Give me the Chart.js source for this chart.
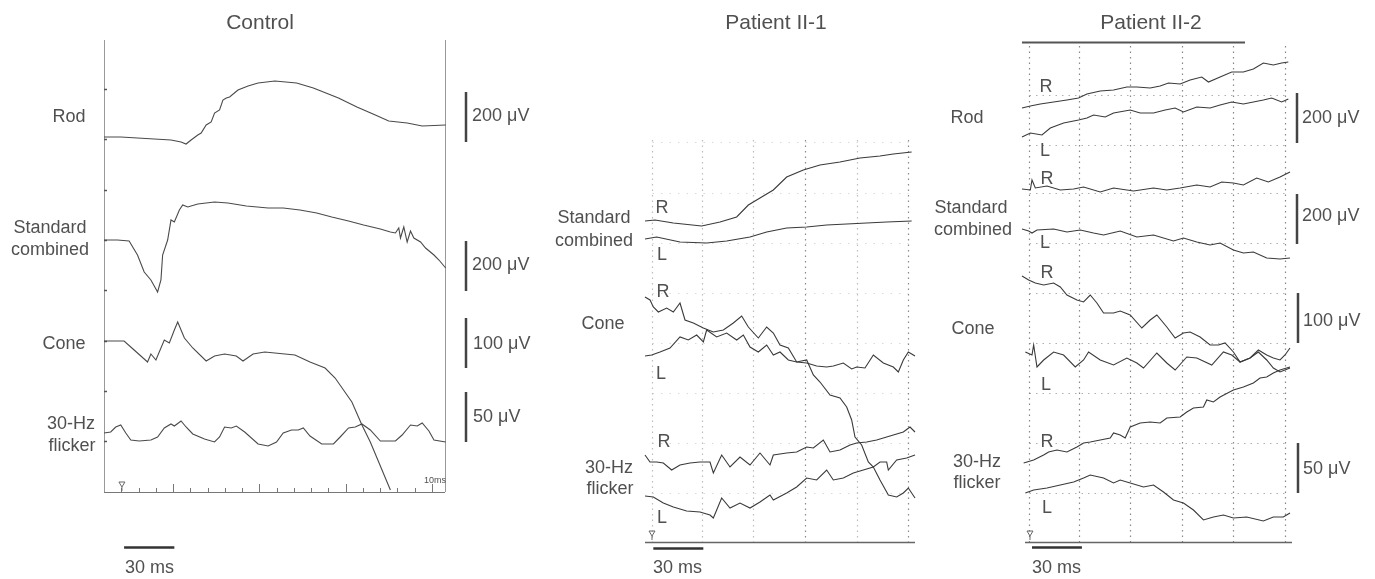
<!DOCTYPE html>
<html>
<head>
<meta charset="utf-8">
<script src="https://cdn.jsdelivr.net/npm/chart.js@4.4.0/dist/chart.umd.min.js"></script>
<style>
  body { margin: 0; background: #fff; }
  #wrap { position: relative; width: 1375px; height: 579px; overflow: hidden; background: #fff;
          font-family: "Liberation Sans", Arial, sans-serif; color: #505050; }
  #wrap canvas { position: absolute; left: 0; top: 0; }
  .t { position: absolute; white-space: nowrap; font-size: 18px; line-height: 20px; height: 20px; }
</style>
</head>
<body>
<div id="wrap">
  <canvas id="c0" width="1375" height="579"></canvas>
  <canvas id="c1" width="1375" height="579"></canvas>
  <canvas id="c2" width="1375" height="579"></canvas>
</div>
<script>
// ---- data: time (ms) and amplitude (uV, relative to each trace's own start) ----
// Control
const ctrlRodT = [0,10,20,30,40,46,49,52,56,58,61,64,66,69,71,73,75,80,86,92,102,115,125,140,151,162,170,181,190,204];
const ctrlRodV = [0,0,-4,-8,-12,-20,-28,-12,8,16,48,60,96,108,148,156,160,188,204,216,224,216,196,156,120,88,64,56,44,48];
const ctrlStdT = [0,8,15,20,24,28,30,32,34,35,38,40,42,45,47,50,56,66,74,85,98,107,117,127,136,146,155,165,171,174,176,177,179,181,183,185,189,192,197,200,204];
const ctrlStdV = [0,0,-4,-60,-128,-160,-184,-208,-160,-60,0,80,72,120,140,132,144,152,148,136,128,128,120,108,92,76,60,44,32,28,48,8,52,-8,36,8,-8,-32,-60,-80,-112];
const ctrlConeT = [0,12,18,26,28,31,36,39,42,44,48,53,61,66,72,79,83,89,96,108,114,123,132,138,143,148,154,159,164,168,171];
const ctrlConeV = [0,0,-18,-42,-26,-38,2,-4,22,38,6,-14,-40,-30,-26,-30,-40,-26,-22,-26,-28,-42,-54,-74,-98,-122,-168,-202,-242,-274,-298];
const ctrlFlkT = [0,4,7,10,13,16,21,28,32,36,40,42,46,49,53,60,66,69,72,76,79,84,92,98,103,107,112,116,119,123,130,137,141,146,150,154,159,165,174,178,183,187,190,194,197,204];
const ctrlFlkV = [-1,0,5,7,-1,-8,-9,-8,-5,4,8,6,11,5,-2,-7,-10,-5,5,4,6,0,-12,-14,-10,-1,2,2,4,-4,-12,-12,-5,4,5,8,2,-9,-9,-3,7,6,9,1,-8,-10];

// Patient II-1
const p1StdRT = [0,6,17,34,45,55,62,69,77,85,95,105,117,129,141,149,160];
const p1StdRV = [0,4,-8,-20,-4,16,64,92,124,176,204,224,236,252,260,268,276];
const p1StdLT = [0,7,21,37,49,63,73,85,97,109,121,133,145,160];
const p1StdLV = [0,8,-12,-16,-8,8,28,44,48,56,60,64,68,72];
const p1ConeRT = [0,3,5,8,13,17,21,24,29,35,41,47,53,58,62,68,73,77,81,86,91,97,101,105,111,117,121,124,126,130,134,137,141,146,151,155,158,162];
const p1ConeRV = [0,-6,-20,-30,-22,-30,-12,-46,-52,-62,-70,-66,-52,-38,-60,-82,-60,-72,-96,-102,-130,-126,-156,-170,-196,-202,-220,-246,-280,-296,-330,-340,-366,-396,-400,-392,-382,-402];
const p1ConeLT = [0,4,9,15,21,26,31,35,37,43,49,55,59,63,68,73,77,81,86,91,97,103,109,113,119,124,127,132,137,143,149,152,155,158,162];
const p1ConeLV = [0,2,8,16,38,32,42,28,52,38,46,32,42,18,8,22,2,8,-8,-12,-14,-20,-22,-20,-14,-26,-22,-24,2,-14,-22,-32,-8,8,0];
const p1FlkRT = [0,3,7,11,16,21,27,33,39,41,46,51,57,63,69,75,77,85,91,97,101,107,111,117,123,127,133,139,145,149,155,159,162];
const p1FlkRV = [0,-7,-7,-8,-15,-10,-8,-7,-7,-18,0,-12,-2,-10,2,-10,0,2,3,8,7,15,3,5,10,12,13,15,18,20,23,28,23];
const p1FlkLT = [0,5,11,17,25,33,39,41,46,51,57,63,69,75,77,85,91,97,103,109,113,119,125,131,137,141,145,146,151,157,162];
const p1FlkLV = [0,-1,-7,-11,-15,-16,-19,-22,-2,-12,-7,-12,-6,1,-4,3,9,18,16,26,16,18,23,26,29,34,34,26,36,38,41];

// Patient II-2
const p2RodRT = [0,5,11,19,27,34,39,47,55,63,69,77,83,88,95,101,108,112,119,126,133,139,145,151,156,160];
const p2RodRV = [0,8,16,24,32,40,56,68,72,84,84,80,88,100,96,112,124,104,124,144,144,156,180,172,180,184];
const p2RodLT = [0,5,12,17,25,34,39,43,50,55,65,71,79,86,92,97,105,113,119,126,133,139,145,150,156,160];
const p2RodLV = [0,16,8,36,56,68,76,88,80,96,108,96,96,108,116,100,120,116,128,140,132,140,148,156,140,152];
const p2StdRT = [0,5,6,8,15,23,31,37,47,55,67,79,87,95,105,113,120,127,133,141,148,155,161];
const p2StdRV = [0,-4,36,4,12,-4,0,8,-12,4,-8,4,-4,4,16,8,28,24,16,44,28,48,68];
const p2StdLT = [0,4,6,9,19,27,35,43,49,59,69,79,91,97,105,113,119,127,133,139,147,155,161];
const p2StdLV = [0,-8,-16,-4,0,-12,-4,-16,-24,-8,-32,-24,-48,-36,-52,-64,-56,-84,-96,-92,-116,-120,-116];
const p2ConeRT = [0,4,8,13,19,23,27,33,37,41,45,49,55,59,65,72,77,81,87,92,97,101,107,113,118,122,127,131,137,142,147,151,155,158,161];
const p2ConeRV = [8,0,-6,-10,-6,-14,-30,-40,-44,-30,-46,-66,-66,-62,-70,-96,-80,-70,-94,-116,-106,-104,-114,-130,-130,-126,-144,-164,-156,-140,-150,-156,-160,-150,-136];
const p2ConeLT = [2,6,7,9,13,19,25,32,37,40,47,55,63,69,73,81,87,92,99,105,114,121,126,131,137,142,147,151,155,161];
const p2ConeLV = [0,-6,14,-30,-16,0,-6,-30,-16,0,-16,-26,-12,-22,-32,-2,-22,-36,-10,-12,-26,0,-6,-20,-12,0,-16,-32,-40,-32];
const p2FlkRT = [1,7,13,16,21,27,33,37,41,47,53,55,59,62,65,71,77,83,87,95,99,103,109,111,115,119,127,133,139,143,147,151,155,161];
const p2FlkRV = [0,3,8,11,13,11,16,20,21,23,25,30,28,25,36,40,41,40,45,46,51,55,56,63,61,66,73,76,80,85,86,90,93,96];
const p2FlkLT = [2,7,15,23,31,37,41,49,55,59,65,73,79,85,91,97,103,109,115,121,127,135,145,151,157,161];
const p2FlkLV = [0,3,5,8,11,15,18,15,10,13,10,6,8,1,-7,-10,-17,-27,-24,-22,-25,-24,-28,-24,-24,-20];

// vertical grid times for the patient panels (ms)
const gridTimes = [4, 34, 65, 96, 127, 158];

// ---- layout ----
const W = 1375, H = 579;

function pts(t, v) { return t.map((x, i) => ({ x: x, y: v[i] })); }

// each trace gets its own hidden y axis: base = pixel row of the trace start, s = uV per pixel
function buildChart(canvasId, area, xMax, rows, color, decor) {
  const scales = { x: { type: 'linear', axis: 'x', display: false, min: 0, max: xMax } };
  const datasets = [];
  rows.forEach(r => {
    scales[r.id] = { type: 'linear', axis: 'y', position: 'left', display: false,
      min: -(area.bottom - r.base) * r.s, max: (r.base - area.top) * r.s };
    datasets.push({ data: pts(r.t, r.v), xAxisID: 'x', yAxisID: r.id, borderColor: color, borderWidth: 1.1,
      pointRadius: 0, tension: 0, clip: false });
  });
  return new Chart(document.getElementById(canvasId), {
    type: 'line',
    data: { datasets: datasets },
    options: {
      responsive: false, animation: false, devicePixelRatio: 1,
      events: [],
      layout: { padding: { left: area.left, top: area.top, right: W - area.right, bottom: H - area.bottom } },
      plugins: { legend: { display: false }, tooltip: { enabled: false } },
      scales: scales
    },
    plugins: [{ id: 'decor', beforeDatasetsDraw(chart) { decor(chart); } }]
  });
}

function line(ctx, x1, y1, x2, y2, color, width, dash) {
  ctx.save();
  ctx.strokeStyle = color; ctx.lineWidth = width; ctx.setLineDash(dash || []);
  ctx.beginPath(); ctx.moveTo(x1, y1); ctx.lineTo(x2, y2); ctx.stroke();
  ctx.restore();
}

function stimMark(ctx, x, y) {
  ctx.save();
  ctx.strokeStyle = '#666'; ctx.lineWidth = 1;
  ctx.beginPath();
  ctx.moveTo(x - 3, y); ctx.lineTo(x + 3, y); ctx.lineTo(x, y + 5); ctx.closePath();
  ctx.moveTo(x, y + 5); ctx.lineTo(x, y + 9);
  ctx.stroke();
  ctx.restore();
}

function uvBar(chart, axisId, from, len, px) {
  const y = chart.scales[axisId];
  line(chart.ctx, px, y.getPixelForValue(from), px, y.getPixelForValue(from + len), '#444', 2.5);
}

function msBar(chart, t0, py) {
  const x = chart.scales.x;
  line(chart.ctx, x.getPixelForValue(t0), py, x.getPixelForValue(t0 + 30), py, '#333', 2.5);
}

// ---- Control ----
const ctrlArea = { left: 104, top: 40, right: 445, bottom: 492 };
buildChart('c0', ctrlArea, 203.6, [
  { id: 'yRod',  base: 137, s: 4, t: ctrlRodT,  v: ctrlRodV },
  { id: 'yStd',  base: 240, s: 4, t: ctrlStdT,  v: ctrlStdV },
  { id: 'yCone', base: 341, s: 2, t: ctrlConeT, v: ctrlConeV },
  { id: 'yFlk',  base: 432, s: 1, t: ctrlFlkT,  v: ctrlFlkV }
], '#4a4a4a', chart => {
  const ctx = chart.ctx, ca = chart.chartArea, x = chart.scales.x;
  line(ctx, ca.left + 0.5, ca.top, ca.left + 0.5, ca.bottom, '#999', 1);
  line(ctx, ca.right + 0.5, ca.top, ca.right + 0.5, ca.bottom, '#999', 1);
  line(ctx, ca.left, ca.bottom + 0.5, ca.right, ca.bottom + 0.5, '#777', 1.2);
  for (let k = 1; k <= 19; k++) {
    const px = Math.round(x.getPixelForValue(k * 10.3)) + 0.5;
    line(ctx, px, ca.bottom, px, ca.bottom - (k % 5 === 4 ? 8 : 4), '#777', 1);
  }
  for (let i = 0; i < 8; i++) {
    const py = Math.round(89 + i * 50.3) + 0.5;
    line(ctx, ca.left, py, ca.left + 3, py, '#555', 1.5);
  }
  stimMark(ctx, x.getPixelForValue(10.7), 482);
  msBar(chart, 12, 547.5);
  uvBar(chart, 'yRod', -20, 200, 466);
  uvBar(chart, 'yStd', -204, 200, 466);
  uvBar(chart, 'yCone', -54, 100, 466);
  uvBar(chart, 'yFlk', -10, 50, 466);
});

// ---- Patient II-1 ----
const p1Area = { left: 645, top: 40, right: 915, bottom: 542 };
buildChart('c1', p1Area, 162, [
  { id: 'yStdR',  base: 221, s: 4, t: p1StdRT,  v: p1StdRV },
  { id: 'yStdL',  base: 239, s: 4, t: p1StdLT,  v: p1StdLV },
  { id: 'yConeR', base: 297, s: 2, t: p1ConeRT, v: p1ConeRV },
  { id: 'yConeL', base: 356, s: 2, t: p1ConeLT, v: p1ConeLV },
  { id: 'yFlkR',  base: 455, s: 1, t: p1FlkRT,  v: p1FlkRV },
  { id: 'yFlkL',  base: 496, s: 1, t: p1FlkLT,  v: p1FlkLV }
], '#3a3a3a', chart => {
  const ctx = chart.ctx, ca = chart.chartArea, x = chart.scales.x;
  const gx = gridTimes.map(t => Math.round(x.getPixelForValue(t)) + 0.5);
  [142, 193, 243, 293, 343, 393, 443, 493].forEach(py => {
    line(ctx, gx[0], py + 0.5, gx[gx.length - 1], py + 0.5, '#dadada', 1, [1.5, 7]);
  });
  gx.forEach((px, i) => {
    line(ctx, px, 140, px, ca.bottom, (i === 3 || i === 5) ? '#8a8a8a' : '#bdbdbd', 1.2, [1.5, 4]);
  });
  line(ctx, ca.left, ca.bottom + 0.5, ca.right, ca.bottom + 0.5, '#666', 1.5);
  stimMark(ctx, x.getPixelForValue(4.2), 531);
  msBar(chart, 5, 548.5);
});

// ---- Patient II-2 ----
const p2Area = { left: 1022, top: 40, right: 1290, bottom: 542 };
buildChart('c2', p2Area, 161, [
  { id: 'yRodR',  base: 108, s: 4, t: p2RodRT,  v: p2RodRV },
  { id: 'yRodL',  base: 137, s: 4, t: p2RodLT,  v: p2RodLV },
  { id: 'yStdR',  base: 189, s: 4, t: p2StdRT,  v: p2StdRV },
  { id: 'yStdL',  base: 229, s: 4, t: p2StdLT,  v: p2StdLV },
  { id: 'yConeR', base: 280, s: 2, t: p2ConeRT, v: p2ConeRV },
  { id: 'yConeL', base: 352, s: 2, t: p2ConeLT, v: p2ConeLV },
  { id: 'yFlkR',  base: 463, s: 1, t: p2FlkRT,  v: p2FlkRV },
  { id: 'yFlkL',  base: 493, s: 1, t: p2FlkLT,  v: p2FlkLV }
], '#3a3a3a', chart => {
  const ctx = chart.ctx, ca = chart.chartArea, x = chart.scales.x;
  const gx = gridTimes.map(t => Math.round(x.getPixelForValue(t)) + 0.5);
  [95, 145, 193, 243, 293, 343, 393, 443, 493].forEach(py => {
    line(ctx, gx[0], py + 0.5, gx[gx.length - 1], py + 0.5, '#b0b0b0', 1, [1.5, 5]);
  });
  gx.forEach(px => { line(ctx, px, 46, px, ca.bottom, '#888', 1.2, [1.5, 4]); });
  line(ctx, ca.left, 42.5, 1245, 42.5, '#555', 2);
  line(ctx, ca.left + 3, ca.bottom + 0.5, ca.right + 2, ca.bottom + 0.5, '#666', 1.5);
  stimMark(ctx, x.getPixelForValue(4.8), 531);
  msBar(chart, 6, 547.5);
  uvBar(chart, 'yRodR', -140, 200, 1297);
  uvBar(chart, 'yStdR', -220, 200, 1297);
  uvBar(chart, 'yConeR', -126, 100, 1298);
  uvBar(chart, 'yFlkR', -30, 50, 1298);
});

// ---- text ----
const wrap = document.getElementById('wrap');
function T(txt, x, y, align, size) {
  const d = document.createElement('div');
  d.className = 't';
  d.textContent = txt;
  d.style.top = (y - 10) + 'px';
  if (size) d.style.fontSize = size + 'px';
  if (align === 'c') { d.style.left = x + 'px'; d.style.transform = 'translateX(-50%)'; }
  else if (align === 'r') { d.style.right = (W - x) + 'px'; }
  else { d.style.left = x + 'px'; }
  wrap.appendChild(d);
}

// Control
T('Control', 260, 22, 'c', 21);
T('Rod', 69, 116, 'c');
T('Standard', 50, 227, 'c'); T('combined', 50, 249, 'c');
T('Cone', 64, 343, 'c');
T('30-Hz', 71, 423, 'c'); T('flicker', 72, 445, 'c');
T('200 \u03bcV', 472, 115, 'l'); T('200 \u03bcV', 472, 264, 'l');
T('100 \u03bcV', 473, 343, 'l'); T('50 \u03bcV', 473, 416, 'l');
T('30 ms', 125, 567, 'l');
T('10ms', 435, 480, 'c', 9);

// Patient II-1
T('Patient II-1', 776, 22, 'c', 21);
T('Standard', 594, 217, 'c'); T('combined', 594, 240, 'c');
T('R', 662, 207, 'c'); T('L', 662, 254, 'c');
T('Cone', 603, 323, 'c'); T('R', 663, 291, 'c'); T('L', 661, 373, 'c');
T('30-Hz', 609, 467, 'c'); T('flicker', 610, 488, 'c');
T('R', 664, 441, 'c'); T('L', 662, 517, 'c');
T('30 ms', 653, 567, 'l');

// Patient II-2
T('Patient II-2', 1151, 22, 'c', 21);
T('Rod', 967, 117, 'c'); T('R', 1046, 86, 'c'); T('L', 1045, 150, 'c');
T('Standard', 971, 207, 'c'); T('combined', 973, 229, 'c');
T('R', 1047, 178, 'c'); T('L', 1045, 242, 'c');
T('Cone', 973, 328, 'c'); T('R', 1047, 272, 'c'); T('L', 1046, 384, 'c');
T('30-Hz', 977, 461, 'c'); T('flicker', 977, 482, 'c');
T('R', 1047, 441, 'c'); T('L', 1047, 507, 'c');
T('200 \u03bcV', 1302, 117, 'l'); T('200 \u03bcV', 1302, 215, 'l');
T('100 \u03bcV', 1303, 320, 'l'); T('50 \u03bcV', 1303, 468, 'l');
T('30 ms', 1032, 567, 'l');
</script>
</body>
</html>
